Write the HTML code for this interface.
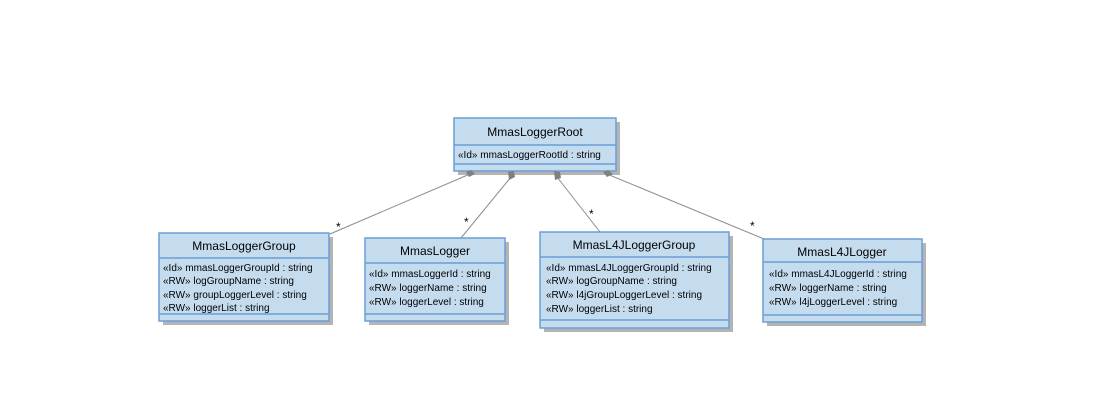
<!DOCTYPE html>
<html><head><style>
body{margin:0;background:#fff;}
svg text{font-family:"Liberation Sans",Arial,sans-serif;}
</style></head><body>
<svg width="1100" height="403" viewBox="0 0 1100 403" xmlns="http://www.w3.org/2000/svg">
<!-- shadows -->
<g fill="#b4b4b4">
<rect x="458" y="122" width="162" height="53"/>
<rect x="163" y="237" width="170" height="88"/>
<rect x="369" y="242" width="140" height="83"/>
<rect x="544" y="236" width="189" height="96"/>
<rect x="767" y="243" width="159" height="83"/>
</g>
<g fill="#c5dcef" stroke="#6a9fd6" stroke-width="1.5">
<rect x="454" y="118" width="162" height="53"/>
<line x1="454" y1="145" x2="616" y2="145"/><line x1="454" y1="164" x2="616" y2="164"/>
<rect x="159" y="233" width="170" height="88"/>
<line x1="159" y1="258" x2="329" y2="258"/><line x1="159" y1="314" x2="329" y2="314"/>
<rect x="365" y="238" width="140" height="83"/>
<line x1="365" y1="263" x2="505" y2="263"/><line x1="365" y1="314" x2="505" y2="314"/>
<rect x="540" y="232" width="189" height="96"/>
<line x1="540" y1="257" x2="729" y2="257"/><line x1="540" y1="320" x2="729" y2="320"/>
<rect x="763" y="239" width="159" height="83"/>
<line x1="763" y1="262" x2="922" y2="262"/><line x1="763" y1="315" x2="922" y2="315"/>
</g>
<g stroke="#8c8c8c" stroke-width="1" fill="none">
<line x1="470" y1="174" x2="330" y2="234"/>
<line x1="511" y1="177" x2="461" y2="238"/>
<line x1="557" y1="177" x2="600" y2="232"/>
<line x1="607" y1="174" x2="764" y2="239"/>
</g>
<g fill="#808080">
<polygon points="466,172 471,170 475,174 469,177"/>
<polygon points="508,172 514,171 515,177 509,180"/>
<polygon points="554,171 560,172 561,178 555,180"/>
<polygon points="603,172 608,170 613,174 607,177"/>
</g>
<g font-size="12" fill="#000">
<text x="336" y="231">*</text>
<text x="464" y="226">*</text>
<text x="589" y="218">*</text>
<text x="750" y="230">*</text>
</g>
<g font-size="12" fill="#000" text-anchor="middle">
<text x="535" y="136">MmasLoggerRoot</text>
<text x="244" y="250">MmasLoggerGroup</text>
<text x="435" y="255">MmasLogger</text>
<text x="634" y="249">MmasL4JLoggerGroup</text>
<text x="842" y="256">MmasL4JLogger</text>
</g>
<g font-size="10" fill="#000">
<text x="458" y="158">«Id» mmasLoggerRootId : string</text>
<text x="163" y="271">«Id» mmasLoggerGroupId : string</text>
<text x="163" y="284">«RW» logGroupName : string</text>
<text x="163" y="298">«RW» groupLoggerLevel : string</text>
<text x="163" y="311">«RW» loggerList : string</text>
<text x="369" y="277">«Id» mmasLoggerId : string</text>
<text x="369" y="291">«RW» loggerName : string</text>
<text x="369" y="305">«RW» loggerLevel : string</text>
<text x="546" y="271">«Id» mmasL4JLoggerGroupId : string</text>
<text x="546" y="284">«RW» logGroupName : string</text>
<text x="546" y="298">«RW» l4jGroupLoggerLevel : string</text>
<text x="546" y="312">«RW» loggerList : string</text>
<text x="769" y="277">«Id» mmasL4JLoggerId : string</text>
<text x="769" y="291">«RW» loggerName : string</text>
<text x="769" y="305">«RW» l4jLoggerLevel : string</text>
</g>
</svg>
</body></html>
